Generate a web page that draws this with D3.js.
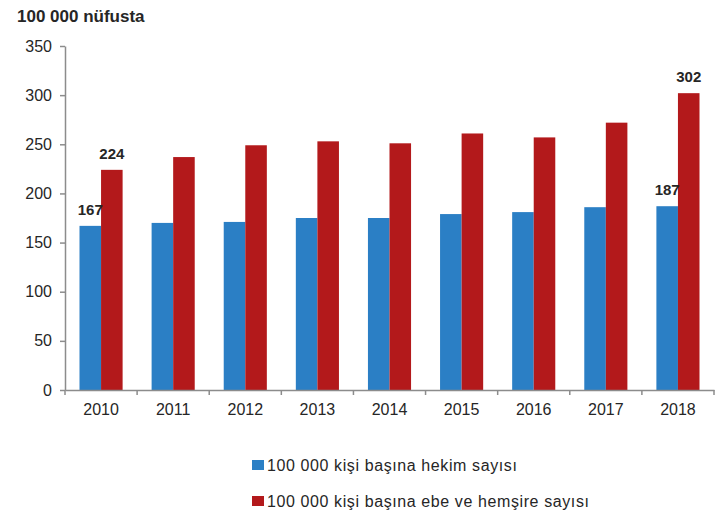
<!DOCTYPE html>
<html>
<head>
<meta charset="utf-8">
<script src="https://cdn.jsdelivr.net/npm/d3@7"></script>
<style>
  body { margin: 0; background: #fff; }
  text { font-family: "Liberation Sans", Arial, sans-serif; }
</style>
</head>
<body>
<div id="vis"></div>
<script>
// Data
const YEARS = ["2010", "2011", "2012", "2013", "2014", "2015", "2016", "2017", "2018"];
const HEKIM = [167, 170, 171, 175, 175, 179, 181, 186, 187];
const EBE = [224, 237, 249, 253, 251, 261, 257, 272, 302];
const SERIES_NAMES = ["100 000 kişi başına hekim sayısı", "100 000 kişi başına ebe ve hemşire sayısı"];
const Y_TICKS = [0, 50, 100, 150, 200, 250, 300, 350];
// which bars carry value labels
const LABELED = ["2010", "2018"];

const FRAME_WIDTH = 726;
const FRAME_HEIGHT = 517;
const MARGINS = {left: 65, right: 12, top: 46, bottom: 127};
const VIS_WIDTH = FRAME_WIDTH - MARGINS.left - MARGINS.right;
const VIS_HEIGHT = FRAME_HEIGHT - MARGINS.top - MARGINS.bottom;

const COLORS = ["#2b7fc5", "#b3191b"];
const AXIS_COLOR = "#8c8c8c";
const TEXT_COLOR = "#262626";

const FRAME = d3.select("#vis")
  .append("svg")
    .attr("width", FRAME_WIDTH)
    .attr("height", FRAME_HEIGHT);

const g = FRAME.append("g")
  .attr("transform", "translate(" + MARGINS.left + "," + MARGINS.top + ")");

// Scales
const X_SCALE = d3.scaleBand()
  .domain(YEARS)
  .range([0, VIS_WIDTH])
  .paddingInner(0)
  .paddingOuter(0);

const X_INNER = d3.scaleBand()
  .domain([0, 1])
  .range([14.5, X_SCALE.bandwidth() - 14.5]);

const Y_SCALE = d3.scaleLinear()
  .domain([0, 350])
  .range([VIS_HEIGHT, 0]);

// Title
FRAME.append("text")
  .attr("x", 17)
  .attr("y", 22)
  .attr("font-weight", "700")
  .style("font-size", "17px")
  .attr("fill", TEXT_COLOR)
  .text("100 000 nüfusta");

// Bars
const rows = YEARS.map((y, i) => ({year: y, values: [HEKIM[i], EBE[i]]}));

const groups = g.selectAll(".grp")
  .data(rows)
  .enter()
  .append("g")
    .attr("class", "grp")
    .attr("transform", (d) => "translate(" + X_SCALE(d.year) + ",0)");

groups.selectAll("rect")
  .data((d) => d.values.map((v, k) => ({k: k, v: v, year: d.year})))
  .enter()
  .append("rect")
    .attr("x", (d) => X_INNER(d.k))
    .attr("y", (d) => Y_SCALE(d.v))
    .attr("width", X_INNER.bandwidth())
    .attr("height", (d) => VIS_HEIGHT - Y_SCALE(d.v))
    .attr("fill", (d) => COLORS[d.k]);

// Value labels
groups.filter((d) => LABELED.includes(d.year))
  .selectAll(".lbl")
  .data((d) => d.values.map((v, k) => ({k: k, v: v})))
  .enter()
  .append("text")
    .attr("class", "lbl")
    .attr("x", (d) => X_INNER(d.k) + X_INNER.bandwidth() / 2)
    .attr("y", (d) => Y_SCALE(d.v) - 11)
    .attr("text-anchor", "middle")
    .attr("font-weight", "700")
    .style("font-size", "15px")
    .attr("fill", TEXT_COLOR)
    .text((d) => d.v);

// Y axis
const yAxis = g.append("g")
  .call(d3.axisLeft(Y_SCALE).tickValues(Y_TICKS).tickSize(5).tickPadding(8).tickSizeOuter(0));
yAxis.select(".domain").attr("stroke", AXIS_COLOR).attr("stroke-width", 1.5);
yAxis.selectAll(".tick line").attr("stroke", AXIS_COLOR).attr("stroke-width", 1.5);
yAxis.selectAll(".tick text")
  .style("font-size", "16px")
  .attr("fill", TEXT_COLOR)
  .attr("font-family", "Liberation Sans, Arial, sans-serif");

// X axis
const xAxis = g.append("g")
  .attr("transform", "translate(0," + VIS_HEIGHT + ")")
  .call(d3.axisBottom(X_SCALE).tickSize(0).tickPadding(14));
xAxis.select(".domain").attr("stroke", AXIS_COLOR).attr("stroke-width", 1.5);
xAxis.selectAll(".tick text")
  .style("font-size", "16px")
  .attr("fill", TEXT_COLOR)
  .attr("font-family", "Liberation Sans, Arial, sans-serif");

// tick marks between categories
const boundaries = YEARS.map((y) => X_SCALE(y)).concat([VIS_WIDTH]);
g.append("g")
  .selectAll("line")
  .data(boundaries)
  .enter()
  .append("line")
    .attr("x1", (d) => d)
    .attr("x2", (d) => d)
    .attr("y1", VIS_HEIGHT)
    .attr("y2", VIS_HEIGHT + 5)
    .attr("stroke", AXIS_COLOR)
    .attr("stroke-width", 1.5);

// Legend
const legend = FRAME.append("g")
  .selectAll("g")
  .data(SERIES_NAMES)
  .enter()
  .append("g")
    .attr("transform", (d, i) => "translate(252," + (465 + i * 36) + ")");

legend.append("rect")
  .attr("x", 0)
  .attr("y", -5)
  .attr("width", 12)
  .attr("height", 10)
  .attr("fill", (d, i) => COLORS[i]);

legend.append("text")
  .attr("x", 15)
  .attr("y", 6)
  .attr("font-family", "DejaVu Sans, sans-serif")
  .style("font-size", "16px")
  .style("letter-spacing", "0.6px")
  .attr("fill", TEXT_COLOR)
  .text((d) => d);
</script>
</body>
</html>
